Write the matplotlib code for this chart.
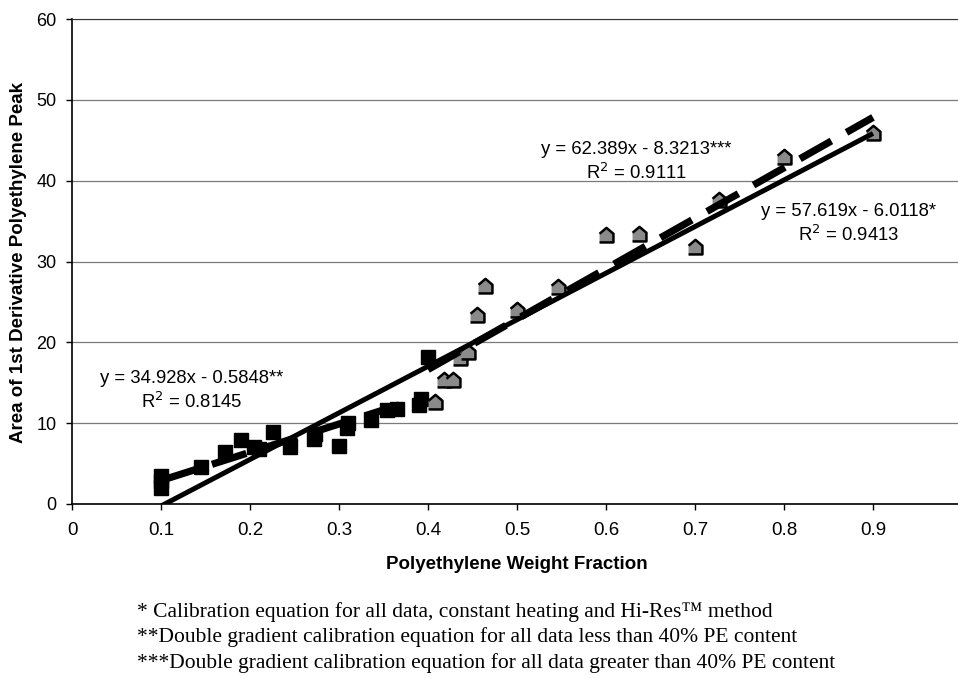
import numpy as np
import matplotlib.pyplot as plt

plt.rcParams['font.family'] = ['Liberation Sans', 'DejaVu Sans']

# данные: ниже 40% PE (квадраты)
x_low = [0.10, 0.10, 0.10, 0.145, 0.172, 0.19, 0.205, 0.21, 0.226, 0.245, 0.272, 0.273,
         0.30, 0.309, 0.31, 0.336, 0.354, 0.365, 0.39, 0.392, 0.40]
y_low = [3.5, 2.8, 2.0, 4.6, 6.4, 7.9, 7.0, 6.8, 8.9, 7.1, 8.0, 8.6,
         7.2, 9.4, 10.0, 10.4, 11.6, 11.7, 12.3, 13.0, 18.2]

# выше 40% PE
x_high = [0.408, 0.418, 0.428, 0.436, 0.445, 0.455, 0.464, 0.50, 0.546, 0.60,
          0.637, 0.70, 0.727, 0.80, 0.90]
y_high = [12.6, 15.3, 15.3, 18.1, 18.8, 23.4, 27.0, 24.0, 26.8, 33.3,
          33.4, 31.8, 37.6, 42.9, 45.9]

# линии тренда: (наклон, сдвиг, x от, x до)
fit_all = (57.619, -6.0118, 0.1, 0.9)
fit_low = (34.928, -0.5848, 0.1, 0.4)
fit_high = (62.389, -8.3213, 0.4, 0.9)

eq_texts = ["y = 34.928x - 0.5848**\nR$^2$ = 0.8145",
            "y = 62.389x - 8.3213***\nR$^2$ = 0.9111",
            "y = 57.619x - 6.0118*\nR$^2$ = 0.9413"]

notes = ["* Calibration equation for all data, constant heating and Hi-Res\u2122 method",
         "**Double gradient calibration equation for all data less than 40% PE content",
         "***Double gradient calibration equation for all data greater than 40% PE content"]

fig = plt.figure(figsize=(9.58, 6.79), dpi=100)
ax = fig.add_axes([72 / 958, 175 / 679, 890 / 958, 485 / 679])

house = [(-1, -1), (1, -1), (1, 0.25), (0, 1.1), (-1, 0.25)]
ax.plot(x_low, y_low, 's', color='black', markersize=9.5, zorder=3, clip_on=False)
ax.plot(x_high, y_high, marker=house, linestyle='none', markerfacecolor='#8a8a8a',
        markeredgecolor='black', markeredgewidth=1.8, markersize=11, zorder=3)

def trend(fit):
    k, b, x0, x1 = fit
    xs = np.array([x0, x1])
    return xs, k * xs + b

xs, ys = trend(fit_all)
ax.plot(xs, ys, '-', color='black', lw=3.6, zorder=4, solid_capstyle='butt')
for f in (fit_low, fit_high):
    xs, ys = trend(f)
    ax.plot(xs, ys, color='black', lw=5.2, zorder=4, dashes=(5, 2.4), dash_capstyle='butt')

ax.set_xlim(0, 1.0)
ax.set_ylim(0, 60)
ax.set_xticks(np.arange(0, 1.0, 0.1))
ax.set_xticklabels(['0', '0.1', '0.2', '0.3', '0.4', '0.5', '0.6', '0.7', '0.8', '0.9'])
ax.set_yticks(np.arange(0, 61, 10))
ax.tick_params(axis='both', direction='out', length=4, width=1)
ax.tick_params(axis='x', labelsize=13.5, pad=9)
ax.tick_params(axis='y', labelsize=13, pad=7)
ax.yaxis.grid(True, color='#7a7a7a', lw=0.9)
ax.set_axisbelow(True)
ax.spines['right'].set_visible(False)
ax.spines['top'].set_color('#333333')
ax.spines['left'].set_linewidth(1.2)
ax.spines['bottom'].set_linewidth(1.2)

ax.set_xlabel('Polyethylene Weight Fraction', fontsize=13.5, fontweight='bold', labelpad=12)
fig.text(19 / 958, 1 - 263 / 679, 'Area of 1st Derivative Polyethylene Peak', rotation=90,
         fontsize=13.5, fontweight='bold', ha='center', va='center')

ax.text(0.134, 14.0, eq_texts[0], fontsize=13.3, ha='center', va='center', linespacing=1.3)
ax.text(0.634, 42.3, eq_texts[1], fontsize=13.3, ha='center', va='center', linespacing=1.3)
ax.text(0.872, 34.65, eq_texts[2], fontsize=13.3, ha='center', va='center', linespacing=1.3)

for i, t in enumerate(notes):
    fig.text(137 / 958, 1 - (612 + 25.5 * i) / 679, t, fontsize=15.5,
             family='Liberation Serif', ha='left', va='center')

fig.savefig('out.png', dpi=100)
